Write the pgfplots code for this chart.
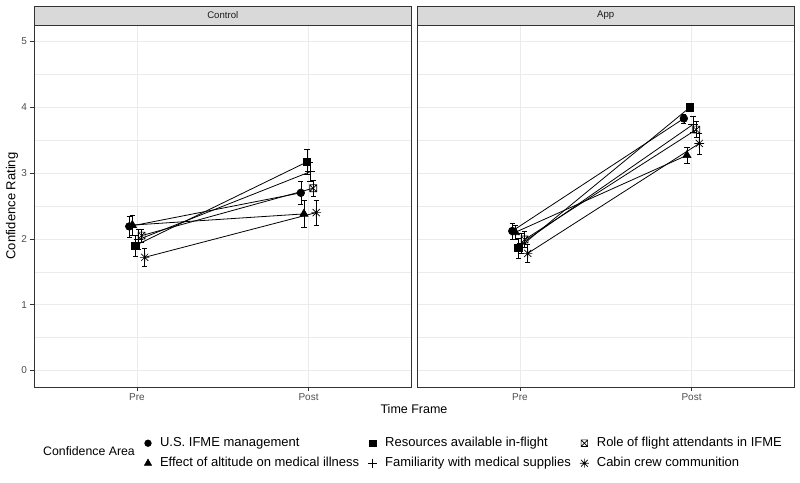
\documentclass[border=0pt]{standalone}
\usepackage{fontspec}
\setmainfont{Liberation Sans}
\usepackage{pgfplots}
\pgfplotsset{compat=1.18}

\definecolor{g10}{HTML}{1A1A1A}
\definecolor{g20}{HTML}{333333}
\definecolor{g30}{HTML}{4D4D4D}
\definecolor{g85}{HTML}{D9D9D9}
\definecolor{g92}{HTML}{EBEBEB}

% square with a cross (R pch 7) and eight-spoke asterisk (R pch 8)
\pgfdeclareplotmark{boxx}{%
  \pgfpathrectangle{\pgfpoint{-\pgfplotmarksize}{-\pgfplotmarksize}}{\pgfpoint{2\pgfplotmarksize}{2\pgfplotmarksize}}%
  \pgfpathmoveto{\pgfpoint{-\pgfplotmarksize}{-\pgfplotmarksize}}\pgfpathlineto{\pgfpoint{\pgfplotmarksize}{\pgfplotmarksize}}%
  \pgfpathmoveto{\pgfpoint{-\pgfplotmarksize}{\pgfplotmarksize}}\pgfpathlineto{\pgfpoint{\pgfplotmarksize}{-\pgfplotmarksize}}%
  \pgfusepathqstroke}
\pgfdeclareplotmark{ast8}{%
  \pgfpathmoveto{\pgfpoint{-\pgfplotmarksize}{0pt}}\pgfpathlineto{\pgfpoint{\pgfplotmarksize}{0pt}}%
  \pgfpathmoveto{\pgfpoint{0pt}{-\pgfplotmarksize}}\pgfpathlineto{\pgfpoint{0pt}{\pgfplotmarksize}}%
  \pgfpathmoveto{\pgfpoint{-0.75\pgfplotmarksize}{-0.75\pgfplotmarksize}}\pgfpathlineto{\pgfpoint{0.75\pgfplotmarksize}{0.75\pgfplotmarksize}}%
  \pgfpathmoveto{\pgfpoint{-0.75\pgfplotmarksize}{0.75\pgfplotmarksize}}\pgfpathlineto{\pgfpoint{0.75\pgfplotmarksize}{-0.75\pgfplotmarksize}}%
  \pgfusepathqstroke}

\pgfplotsset{
  panel/.style={
    scale only axis, width=377.5pt, height=362pt,
    xmin=0.4, xmax=2.6, ymin=-0.25, ymax=5.25,
    xtick={1,2}, xticklabels={Pre,Post},
    ytick={0,1,2,3,4,5}, minor ytick={0.5,1.5,2.5,3.5,4.5},
    grid=both,
    major grid style={g92, line width=0.75pt},
    minor grid style={g92, line width=0.4pt},
    axis line style={g20, line width=0.75pt},
    tick align=outside, tick pos=left,
    major tick length=3.5pt, minor tick length=0pt,
    every tick/.style={g20, line width=0.75pt},
    tick label style={font=\fontsize{10}{12}\selectfont, text=g30},
    /pgf/number format/assume math mode=true,
  },
  ser/.style={black, line width=0.8pt, mark options={solid, line width=0.65pt},
    error bars/y dir=both, error bars/y explicit,
    error bars/error bar style={line width=0.65pt},
    error bars/error mark options={rotate=90, line width=0.65pt, mark size=2.6pt}},
  mUS/.style={mark=*, mark size=3.8pt},
  mEff/.style={mark=triangle*, mark size=4.7pt},
  mRes/.style={mark=square*, mark size=3.6pt},
  mFam/.style={mark=+, mark size=4.8pt},
  mRole/.style={mark=boxx, mark size=3.5pt},
  mCab/.style={mark=ast8, mark size=4.8pt},
}

\begin{document}
\begin{tikzpicture}
\useasboundingbox (0,0) rectangle (800pt,482pt);

% ---------------- Control ----------------
\begin{axis}[panel, at={(34pt,95pt)}, anchor=south west,
  legend columns=3,
  legend cell align=left,
  legend image code/.code={\path[draw=none, fill=none] (0pt,-4pt) rectangle (8pt,4pt);
    \draw[#1, only marks] plot coordinates {(4pt,0pt)};},
  legend style={at={(0.2914,-0.138)}, anchor=north west, draw=none, fill=none,
    inner sep=0pt, outer sep=0pt,
    font=\fontsize{13}{15}\selectfont,
    nodes={inner sep=0pt, text height=9.5pt, text depth=3pt},
    /tikz/row sep=7.5pt,
    /tikz/every odd column/.append style={column sep=8pt},
    /tikz/every even column/.append style={column sep=9pt}},
]
% U.S. IFME management
\addplot[ser, mUS, forget plot] table[x=x, y=y, y error=e] {
x y e
0.955 2.19 0.16
1.955 2.70 0.18
};
% Effect of altitude on medical illness
\addplot[ser, mEff, forget plot] table[x=x, y=y, y error=e] {
x y e
0.973 2.21 0.15
1.973 2.38 0.21
};
% Resources available in-flight
\addplot[ser, mRes, forget plot] table[x=x, y=y, y error=e] {
x y e
0.991 1.90 0.16
1.991 3.17 0.19
};
% Familiarity with medical supplies
\addplot[ser, mFam, forget plot] table[x=x, y=y, y error=e] {
x y e
1.009 1.99 0.15
2.009 3.02 0.15
};
% Role of flight attendants in IFME
\addplot[ser, mRole, forget plot] table[x=x, y=y, y error=e] {
x y e
1.027 2.05 0.10
2.027 2.77 0.12
};
% Cabin crew communition
\addplot[ser, mCab, forget plot] table[x=x, y=y, y error=e] {
x y e
1.045 1.72 0.13
2.045 2.40 0.19
};

\addlegendimage{black, mark=*, mark size=3.4pt}
\addlegendentry{U.S. IFME management}
\addlegendimage{black, mark=square*, mark size=3.3pt}
\addlegendentry{Resources available in-flight}
\addlegendimage{black, mark=boxx, mark size=3.3pt, line width=0.6pt}
\addlegendentry{Role of flight attendants in IFME}
\addlegendimage{black, mark=triangle*, mark size=4.2pt}
\addlegendentry{Effect of altitude on medical illness}
\addlegendimage{black, mark=+, mark size=4.5pt, line width=0.6pt}
\addlegendentry{Familiarity with medical supplies}
\addlegendimage{black, mark=ast8, mark size=4.5pt, line width=0.6pt}
\addlegendentry{Cabin crew communition}
\end{axis}

% ---------------- App ----------------
\begin{axis}[panel, at={(417pt,95pt)}, anchor=south west,
  yticklabels={}, ytick style={draw=none}]
\addplot[ser, mUS] table[x=x, y=y, y error=e] {
x y e
0.955 2.12 0.12
1.955 3.83 0.07
};
\addplot[ser, mEff] table[x=x, y=y, y error=e] {
x y e
0.973 2.10 0.10
1.973 3.27 0.12
};
\addplot[ser, mRes] table[x=x, y=y, y error=e] {
x y e
0.991 1.86 0.15
1.991 4.00 0.05
};
\addplot[ser, mFam] table[x=x, y=y, y error=e] {
x y e
1.009 1.93 0.15
2.009 3.74 0.12
};
\addplot[ser, mRole] table[x=x, y=y, y error=e] {
x y e
1.027 1.99 0.12
2.027 3.66 0.12
};
\addplot[ser, mCab] table[x=x, y=y, y error=e] {
x y e
1.045 1.78 0.14
2.045 3.45 0.16
};
\end{axis}

% strips
\draw[g20, fill=g85, line width=0.75pt] (34pt,457pt) rectangle (411.5pt,476pt);
\draw[g20, fill=g85, line width=0.75pt] (417pt,457pt) rectangle (794.5pt,476pt);
\node[text=g10, font=\fontsize{9.6}{11}\selectfont] at (222.75pt,466.5pt) {Control};
\node[text=g10, font=\fontsize{9.6}{11}\selectfont] at (605.75pt,466.5pt) {App};

% axis titles
\node[rotate=90, font=\fontsize{13}{15}\selectfont] at (12pt,276pt) {Confidence Rating};
\node[font=\fontsize{12.5}{14}\selectfont] at (414pt,73pt) {Time Frame};
\node[anchor=west, inner sep=0pt, font=\fontsize{12.3}{14}\selectfont] at (43pt,31pt) {Confidence Area};
\end{tikzpicture}
\end{document}
